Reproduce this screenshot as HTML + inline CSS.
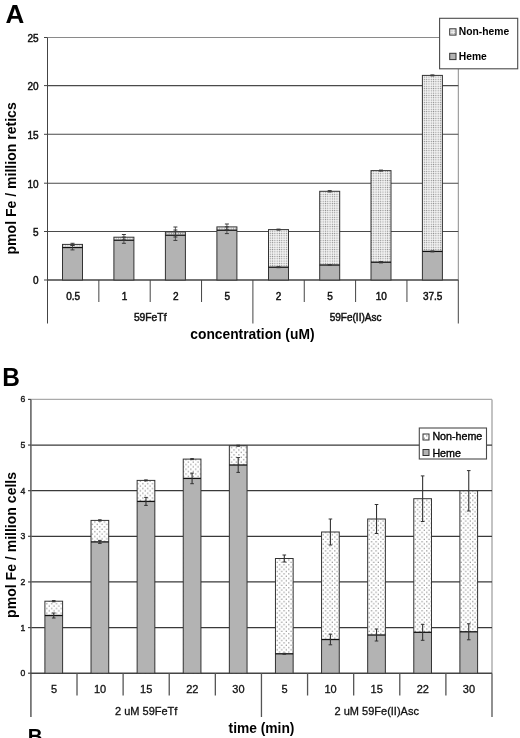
<!DOCTYPE html><html><head><meta charset="utf-8"><style>html,body{margin:0;padding:0;background:#fff;width:520px;height:738px;overflow:hidden}svg{display:block;will-change:transform}text{font-family:"Liberation Sans",sans-serif}</style></head><body>
<svg width="520" height="738" viewBox="0 0 520 738">
<defs>
<pattern id="fine" width="2.3" height="2.3" patternUnits="userSpaceOnUse"><rect width="2.3" height="2.3" fill="#f9f9f9"/><rect x="0.6" y="0.6" width="1.15" height="1.15" fill="#858585"/></pattern>
<pattern id="latb" width="4.6" height="4.6" patternUnits="userSpaceOnUse"><rect width="4.6" height="4.6" fill="#fff"/><rect x="0.6" y="0.6" width="1.2" height="1.2" fill="#8a8a8a"/><rect x="2.9" y="2.9" width="1.2" height="1.2" fill="#8a8a8a"/></pattern>
<pattern id="coarse" width="4.8" height="4.8" patternUnits="userSpaceOnUse"><rect width="4.8" height="4.8" fill="#fff"/><rect x="0.6" y="0.6" width="1.3" height="1.3" fill="#999"/><rect x="3.0" y="3.0" width="1.3" height="1.3" fill="#999"/></pattern>
</defs>
<rect width="520" height="738" fill="#fff"/>
<text x="5.50" y="22.50" font-size="26" text-anchor="start" font-weight="bold" fill="#000">A</text>
<line x1="47.50" y1="37.50" x2="440.00" y2="37.50" stroke="#8a8a8a" stroke-width="1"/>
<line x1="458.30" y1="69.00" x2="458.30" y2="280.00" stroke="#8a8a8a" stroke-width="1"/>
<line x1="47.50" y1="231.50" x2="458.30" y2="231.50" stroke="#4a4a4a" stroke-width="1.1"/>
<line x1="47.50" y1="183.20" x2="458.30" y2="183.20" stroke="#4a4a4a" stroke-width="1.1"/>
<line x1="47.50" y1="134.30" x2="458.30" y2="134.30" stroke="#4a4a4a" stroke-width="1.1"/>
<line x1="47.50" y1="85.60" x2="458.30" y2="85.60" stroke="#4a4a4a" stroke-width="1.1"/>
<line x1="47.50" y1="37.50" x2="47.50" y2="323.50" stroke="#444" stroke-width="1"/>
<line x1="44.00" y1="280.00" x2="47.50" y2="280.00" stroke="#444" stroke-width="1"/>
<text x="38.50" y="284.30" font-size="10" text-anchor="end" font-weight="normal" fill="#111" stroke="#111" stroke-width="0.45">0</text>
<line x1="44.00" y1="231.50" x2="47.50" y2="231.50" stroke="#444" stroke-width="1"/>
<text x="38.50" y="235.80" font-size="10" text-anchor="end" font-weight="normal" fill="#111" stroke="#111" stroke-width="0.45">5</text>
<line x1="44.00" y1="183.20" x2="47.50" y2="183.20" stroke="#444" stroke-width="1"/>
<text x="38.50" y="187.50" font-size="10" text-anchor="end" font-weight="normal" fill="#111" stroke="#111" stroke-width="0.45">10</text>
<line x1="44.00" y1="134.30" x2="47.50" y2="134.30" stroke="#444" stroke-width="1"/>
<text x="38.50" y="138.60" font-size="10" text-anchor="end" font-weight="normal" fill="#111" stroke="#111" stroke-width="0.45">15</text>
<line x1="44.00" y1="85.60" x2="47.50" y2="85.60" stroke="#444" stroke-width="1"/>
<text x="38.50" y="89.90" font-size="10" text-anchor="end" font-weight="normal" fill="#111" stroke="#111" stroke-width="0.45">20</text>
<line x1="44.00" y1="37.50" x2="47.50" y2="37.50" stroke="#444" stroke-width="1"/>
<text x="38.50" y="41.80" font-size="10" text-anchor="end" font-weight="normal" fill="#111" stroke="#111" stroke-width="0.45">25</text>
<line x1="47.50" y1="280.00" x2="458.30" y2="280.00" stroke="#444" stroke-width="1.3"/>
<line x1="98.85" y1="280.00" x2="98.85" y2="302.00" stroke="#444" stroke-width="1"/>
<line x1="150.20" y1="280.00" x2="150.20" y2="302.00" stroke="#444" stroke-width="1"/>
<line x1="201.55" y1="280.00" x2="201.55" y2="302.00" stroke="#444" stroke-width="1"/>
<line x1="252.90" y1="280.00" x2="252.90" y2="323.50" stroke="#444" stroke-width="1"/>
<line x1="304.25" y1="280.00" x2="304.25" y2="302.00" stroke="#444" stroke-width="1"/>
<line x1="355.60" y1="280.00" x2="355.60" y2="302.00" stroke="#444" stroke-width="1"/>
<line x1="406.95" y1="280.00" x2="406.95" y2="302.00" stroke="#444" stroke-width="1"/>
<line x1="458.30" y1="280.00" x2="458.30" y2="323.50" stroke="#444" stroke-width="1"/>
<text x="73.17" y="299.90" font-size="10" text-anchor="middle" font-weight="normal" fill="#111" stroke="#111" stroke-width="0.45">0.5</text>
<text x="124.53" y="299.90" font-size="10" text-anchor="middle" font-weight="normal" fill="#111" stroke="#111" stroke-width="0.45">1</text>
<text x="175.88" y="299.90" font-size="10" text-anchor="middle" font-weight="normal" fill="#111" stroke="#111" stroke-width="0.45">2</text>
<text x="227.22" y="299.90" font-size="10" text-anchor="middle" font-weight="normal" fill="#111" stroke="#111" stroke-width="0.45">5</text>
<text x="278.58" y="299.90" font-size="10" text-anchor="middle" font-weight="normal" fill="#111" stroke="#111" stroke-width="0.45">2</text>
<text x="329.93" y="299.90" font-size="10" text-anchor="middle" font-weight="normal" fill="#111" stroke="#111" stroke-width="0.45">5</text>
<text x="381.28" y="299.90" font-size="10" text-anchor="middle" font-weight="normal" fill="#111" stroke="#111" stroke-width="0.45">10</text>
<text x="432.62" y="299.90" font-size="10" text-anchor="middle" font-weight="normal" fill="#111" stroke="#111" stroke-width="0.45">37.5</text>
<text x="150.20" y="320.80" font-size="10.3" text-anchor="middle" font-weight="normal" fill="#111" stroke="#111" stroke-width="0.45">59FeTf</text>
<text x="355.60" y="320.80" font-size="10" text-anchor="middle" font-weight="normal" fill="#111" stroke="#111" stroke-width="0.45">59Fe(II)Asc</text>
<text x="252.40" y="338.50" font-size="13.8" text-anchor="middle" font-weight="bold" fill="#000">concentration (uM)</text>
<text x="0" y="0" font-size="14.05" font-weight="bold" fill="#000" text-anchor="middle" transform="translate(16.1,178.4) rotate(-90)">pmol Fe / million retics</text>
<rect x="62.50" y="244.40" width="20.00" height="35.60" fill="url(#fine)"/>
<rect x="62.50" y="247.50" width="20.00" height="32.50" fill="#b3b3b3"/>
<rect x="62.50" y="244.40" width="20.00" height="35.60" fill="none" stroke="#333" stroke-width="1"/>
<line x1="62.50" y1="247.50" x2="82.50" y2="247.50" stroke="#111" stroke-width="1.3"/>
<line x1="72.50" y1="243.30" x2="72.50" y2="245.50" stroke="#3a3a3a" stroke-width="0.8"/>
<line x1="70.50" y1="243.30" x2="74.50" y2="243.30" stroke="#3a3a3a" stroke-width="1"/>
<line x1="70.50" y1="245.50" x2="74.50" y2="245.50" stroke="#3a3a3a" stroke-width="1"/>
<line x1="72.50" y1="245.10" x2="72.50" y2="249.90" stroke="#3a3a3a" stroke-width="0.8"/>
<line x1="70.50" y1="245.10" x2="74.50" y2="245.10" stroke="#3a3a3a" stroke-width="1"/>
<line x1="70.50" y1="249.90" x2="74.50" y2="249.90" stroke="#3a3a3a" stroke-width="1"/>
<rect x="113.90" y="237.20" width="20.00" height="42.80" fill="url(#fine)"/>
<rect x="113.90" y="240.20" width="20.00" height="39.80" fill="#b3b3b3"/>
<rect x="113.90" y="237.20" width="20.00" height="42.80" fill="none" stroke="#333" stroke-width="1"/>
<line x1="113.90" y1="240.20" x2="133.90" y2="240.20" stroke="#111" stroke-width="1.3"/>
<line x1="123.90" y1="234.50" x2="123.90" y2="239.90" stroke="#3a3a3a" stroke-width="0.8"/>
<line x1="121.90" y1="234.50" x2="125.90" y2="234.50" stroke="#3a3a3a" stroke-width="1"/>
<line x1="121.90" y1="239.90" x2="125.90" y2="239.90" stroke="#3a3a3a" stroke-width="1"/>
<line x1="123.90" y1="237.10" x2="123.90" y2="243.30" stroke="#3a3a3a" stroke-width="0.8"/>
<line x1="121.90" y1="237.10" x2="125.90" y2="237.10" stroke="#3a3a3a" stroke-width="1"/>
<line x1="121.90" y1="243.30" x2="125.90" y2="243.30" stroke="#3a3a3a" stroke-width="1"/>
<rect x="165.40" y="232.00" width="20.00" height="48.00" fill="url(#fine)"/>
<rect x="165.40" y="235.20" width="20.00" height="44.80" fill="#b3b3b3"/>
<rect x="165.40" y="232.00" width="20.00" height="48.00" fill="none" stroke="#333" stroke-width="1"/>
<line x1="165.40" y1="235.20" x2="185.40" y2="235.20" stroke="#111" stroke-width="1.3"/>
<line x1="175.40" y1="227.00" x2="175.40" y2="237.00" stroke="#3a3a3a" stroke-width="0.8"/>
<line x1="173.40" y1="227.00" x2="177.40" y2="227.00" stroke="#3a3a3a" stroke-width="1"/>
<line x1="173.40" y1="237.00" x2="177.40" y2="237.00" stroke="#3a3a3a" stroke-width="1"/>
<line x1="175.40" y1="230.00" x2="175.40" y2="240.40" stroke="#3a3a3a" stroke-width="0.8"/>
<line x1="173.40" y1="230.00" x2="177.40" y2="230.00" stroke="#3a3a3a" stroke-width="1"/>
<line x1="173.40" y1="240.40" x2="177.40" y2="240.40" stroke="#3a3a3a" stroke-width="1"/>
<rect x="216.90" y="226.90" width="20.00" height="53.10" fill="url(#fine)"/>
<rect x="216.90" y="230.20" width="20.00" height="49.80" fill="#b3b3b3"/>
<rect x="216.90" y="226.90" width="20.00" height="53.10" fill="none" stroke="#333" stroke-width="1"/>
<line x1="216.90" y1="230.20" x2="236.90" y2="230.20" stroke="#111" stroke-width="1.3"/>
<line x1="226.90" y1="224.00" x2="226.90" y2="229.80" stroke="#3a3a3a" stroke-width="0.8"/>
<line x1="224.90" y1="224.00" x2="228.90" y2="224.00" stroke="#3a3a3a" stroke-width="1"/>
<line x1="224.90" y1="229.80" x2="228.90" y2="229.80" stroke="#3a3a3a" stroke-width="1"/>
<line x1="226.90" y1="226.80" x2="226.90" y2="233.60" stroke="#3a3a3a" stroke-width="0.8"/>
<line x1="224.90" y1="226.80" x2="228.90" y2="226.80" stroke="#3a3a3a" stroke-width="1"/>
<line x1="224.90" y1="233.60" x2="228.90" y2="233.60" stroke="#3a3a3a" stroke-width="1"/>
<rect x="268.50" y="229.60" width="20.00" height="50.40" fill="url(#fine)"/>
<rect x="268.50" y="267.20" width="20.00" height="12.80" fill="#b3b3b3"/>
<rect x="268.50" y="229.60" width="20.00" height="50.40" fill="none" stroke="#333" stroke-width="1"/>
<line x1="268.50" y1="267.20" x2="288.50" y2="267.20" stroke="#111" stroke-width="1.3"/>
<line x1="278.50" y1="229.10" x2="278.50" y2="230.10" stroke="#3a3a3a" stroke-width="0.8"/>
<line x1="276.50" y1="229.10" x2="280.50" y2="229.10" stroke="#3a3a3a" stroke-width="1"/>
<line x1="276.50" y1="230.10" x2="280.50" y2="230.10" stroke="#3a3a3a" stroke-width="1"/>
<line x1="278.50" y1="266.70" x2="278.50" y2="267.70" stroke="#3a3a3a" stroke-width="0.8"/>
<line x1="276.50" y1="266.70" x2="280.50" y2="266.70" stroke="#3a3a3a" stroke-width="1"/>
<line x1="276.50" y1="267.70" x2="280.50" y2="267.70" stroke="#3a3a3a" stroke-width="1"/>
<rect x="319.70" y="191.30" width="20.00" height="88.70" fill="url(#fine)"/>
<rect x="319.70" y="265.00" width="20.00" height="15.00" fill="#b3b3b3"/>
<rect x="319.70" y="191.30" width="20.00" height="88.70" fill="none" stroke="#333" stroke-width="1"/>
<line x1="319.70" y1="265.00" x2="339.70" y2="265.00" stroke="#111" stroke-width="1.3"/>
<line x1="329.70" y1="190.60" x2="329.70" y2="192.00" stroke="#3a3a3a" stroke-width="0.8"/>
<line x1="327.70" y1="190.60" x2="331.70" y2="190.60" stroke="#3a3a3a" stroke-width="1"/>
<line x1="327.70" y1="192.00" x2="331.70" y2="192.00" stroke="#3a3a3a" stroke-width="1"/>
<line x1="329.70" y1="264.50" x2="329.70" y2="265.50" stroke="#3a3a3a" stroke-width="0.8"/>
<line x1="327.70" y1="264.50" x2="331.70" y2="264.50" stroke="#3a3a3a" stroke-width="1"/>
<line x1="327.70" y1="265.50" x2="331.70" y2="265.50" stroke="#3a3a3a" stroke-width="1"/>
<rect x="371.00" y="170.60" width="20.00" height="109.40" fill="url(#fine)"/>
<rect x="371.00" y="262.20" width="20.00" height="17.80" fill="#b3b3b3"/>
<rect x="371.00" y="170.60" width="20.00" height="109.40" fill="none" stroke="#333" stroke-width="1"/>
<line x1="371.00" y1="262.20" x2="391.00" y2="262.20" stroke="#111" stroke-width="1.3"/>
<line x1="381.00" y1="170.10" x2="381.00" y2="171.10" stroke="#3a3a3a" stroke-width="0.8"/>
<line x1="379.00" y1="170.10" x2="383.00" y2="170.10" stroke="#3a3a3a" stroke-width="1"/>
<line x1="379.00" y1="171.10" x2="383.00" y2="171.10" stroke="#3a3a3a" stroke-width="1"/>
<line x1="381.00" y1="261.50" x2="381.00" y2="262.90" stroke="#3a3a3a" stroke-width="0.8"/>
<line x1="379.00" y1="261.50" x2="383.00" y2="261.50" stroke="#3a3a3a" stroke-width="1"/>
<line x1="379.00" y1="262.90" x2="383.00" y2="262.90" stroke="#3a3a3a" stroke-width="1"/>
<rect x="422.40" y="75.40" width="20.00" height="204.60" fill="url(#fine)"/>
<rect x="422.40" y="251.40" width="20.00" height="28.60" fill="#b3b3b3"/>
<rect x="422.40" y="75.40" width="20.00" height="204.60" fill="none" stroke="#333" stroke-width="1"/>
<line x1="422.40" y1="251.40" x2="442.40" y2="251.40" stroke="#111" stroke-width="1.3"/>
<line x1="432.40" y1="74.90" x2="432.40" y2="75.90" stroke="#3a3a3a" stroke-width="0.8"/>
<line x1="430.40" y1="74.90" x2="434.40" y2="74.90" stroke="#3a3a3a" stroke-width="1"/>
<line x1="430.40" y1="75.90" x2="434.40" y2="75.90" stroke="#3a3a3a" stroke-width="1"/>
<line x1="432.40" y1="250.90" x2="432.40" y2="251.90" stroke="#3a3a3a" stroke-width="0.8"/>
<line x1="430.40" y1="250.90" x2="434.40" y2="250.90" stroke="#3a3a3a" stroke-width="1"/>
<line x1="430.40" y1="251.90" x2="434.40" y2="251.90" stroke="#3a3a3a" stroke-width="1"/>
<rect x="439.6" y="18.3" width="78.1" height="50.5" fill="#fff" stroke="#4a4a4a" stroke-width="1.1"/>
<rect x="449.7" y="28.8" width="6.3" height="6.3" fill="url(#fine)" stroke="#333" stroke-width="1"/>
<rect x="449.7" y="53.3" width="6.3" height="6.3" fill="#b3b3b3" stroke="#333" stroke-width="1"/>
<text x="458.80" y="35.20" font-size="10.3" text-anchor="start" font-weight="bold" fill="#000">Non-heme</text>
<text x="458.80" y="60.10" font-size="10.3" text-anchor="start" font-weight="bold" fill="#000">Heme</text>
<text x="0" y="0" font-size="26" font-weight="bold" fill="#000" transform="translate(2.2,386) scale(0.94,1)">B</text>
<line x1="30.90" y1="399.42" x2="492.00" y2="399.42" stroke="#aaa" stroke-width="1.4"/>
<line x1="492.00" y1="399.42" x2="492.00" y2="673.20" stroke="#aaa" stroke-width="1.4"/>
<line x1="30.90" y1="627.57" x2="492.00" y2="627.57" stroke="#3a3a3a" stroke-width="1.3"/>
<line x1="30.90" y1="581.94" x2="492.00" y2="581.94" stroke="#3a3a3a" stroke-width="1.3"/>
<line x1="30.90" y1="536.31" x2="492.00" y2="536.31" stroke="#3a3a3a" stroke-width="1.3"/>
<line x1="30.90" y1="490.68" x2="492.00" y2="490.68" stroke="#3a3a3a" stroke-width="1.3"/>
<line x1="30.90" y1="445.05" x2="492.00" y2="445.05" stroke="#3a3a3a" stroke-width="1.3"/>
<line x1="30.90" y1="399.42" x2="30.90" y2="717.00" stroke="#666" stroke-width="1.6"/>
<line x1="28.00" y1="673.20" x2="30.90" y2="673.20" stroke="#444" stroke-width="1.2"/>
<text x="25.40" y="676.20" font-size="8.6" text-anchor="end" font-weight="normal" fill="#1a1a1a" stroke="#1a1a1a" stroke-width="0.4">0</text>
<line x1="28.00" y1="627.57" x2="30.90" y2="627.57" stroke="#444" stroke-width="1.2"/>
<text x="25.40" y="630.57" font-size="8.6" text-anchor="end" font-weight="normal" fill="#1a1a1a" stroke="#1a1a1a" stroke-width="0.4">1</text>
<line x1="28.00" y1="581.94" x2="30.90" y2="581.94" stroke="#444" stroke-width="1.2"/>
<text x="25.40" y="584.94" font-size="8.6" text-anchor="end" font-weight="normal" fill="#1a1a1a" stroke="#1a1a1a" stroke-width="0.4">2</text>
<line x1="28.00" y1="536.31" x2="30.90" y2="536.31" stroke="#444" stroke-width="1.2"/>
<text x="25.40" y="539.31" font-size="8.6" text-anchor="end" font-weight="normal" fill="#1a1a1a" stroke="#1a1a1a" stroke-width="0.4">3</text>
<line x1="28.00" y1="490.68" x2="30.90" y2="490.68" stroke="#444" stroke-width="1.2"/>
<text x="25.40" y="493.68" font-size="8.6" text-anchor="end" font-weight="normal" fill="#1a1a1a" stroke="#1a1a1a" stroke-width="0.4">4</text>
<line x1="28.00" y1="445.05" x2="30.90" y2="445.05" stroke="#444" stroke-width="1.2"/>
<text x="25.40" y="448.05" font-size="8.6" text-anchor="end" font-weight="normal" fill="#1a1a1a" stroke="#1a1a1a" stroke-width="0.4">5</text>
<line x1="28.00" y1="399.42" x2="30.90" y2="399.42" stroke="#444" stroke-width="1.2"/>
<text x="25.40" y="402.42" font-size="8.6" text-anchor="end" font-weight="normal" fill="#1a1a1a" stroke="#1a1a1a" stroke-width="0.4">6</text>
<line x1="30.90" y1="673.20" x2="492.00" y2="673.20" stroke="#444" stroke-width="1.6"/>
<line x1="77.01" y1="673.20" x2="77.01" y2="695.50" stroke="#555" stroke-width="1.3"/>
<line x1="123.12" y1="673.20" x2="123.12" y2="695.50" stroke="#555" stroke-width="1.3"/>
<line x1="169.23" y1="673.20" x2="169.23" y2="695.50" stroke="#555" stroke-width="1.3"/>
<line x1="215.34" y1="673.20" x2="215.34" y2="695.50" stroke="#555" stroke-width="1.3"/>
<line x1="261.45" y1="673.20" x2="261.45" y2="717.00" stroke="#555" stroke-width="1.3"/>
<line x1="307.56" y1="673.20" x2="307.56" y2="695.50" stroke="#555" stroke-width="1.3"/>
<line x1="353.67" y1="673.20" x2="353.67" y2="695.50" stroke="#555" stroke-width="1.3"/>
<line x1="399.78" y1="673.20" x2="399.78" y2="695.50" stroke="#555" stroke-width="1.3"/>
<line x1="445.89" y1="673.20" x2="445.89" y2="695.50" stroke="#555" stroke-width="1.3"/>
<line x1="492.00" y1="673.20" x2="492.00" y2="717.00" stroke="#555" stroke-width="1.3"/>
<text x="53.95" y="692.90" font-size="11" text-anchor="middle" font-weight="normal" fill="#111" stroke="#111" stroke-width="0.3">5</text>
<text x="100.06" y="692.90" font-size="11" text-anchor="middle" font-weight="normal" fill="#111" stroke="#111" stroke-width="0.3">10</text>
<text x="146.18" y="692.90" font-size="11" text-anchor="middle" font-weight="normal" fill="#111" stroke="#111" stroke-width="0.3">15</text>
<text x="192.28" y="692.90" font-size="11" text-anchor="middle" font-weight="normal" fill="#111" stroke="#111" stroke-width="0.3">22</text>
<text x="238.40" y="692.90" font-size="11" text-anchor="middle" font-weight="normal" fill="#111" stroke="#111" stroke-width="0.3">30</text>
<text x="284.50" y="692.90" font-size="11" text-anchor="middle" font-weight="normal" fill="#111" stroke="#111" stroke-width="0.3">5</text>
<text x="330.61" y="692.90" font-size="11" text-anchor="middle" font-weight="normal" fill="#111" stroke="#111" stroke-width="0.3">10</text>
<text x="376.72" y="692.90" font-size="11" text-anchor="middle" font-weight="normal" fill="#111" stroke="#111" stroke-width="0.3">15</text>
<text x="422.83" y="692.90" font-size="11" text-anchor="middle" font-weight="normal" fill="#111" stroke="#111" stroke-width="0.3">22</text>
<text x="468.94" y="692.90" font-size="11" text-anchor="middle" font-weight="normal" fill="#111" stroke="#111" stroke-width="0.3">30</text>
<text x="146.18" y="714.60" font-size="11" text-anchor="middle" font-weight="normal" fill="#111" stroke="#111" stroke-width="0.3">2 uM 59FeTf</text>
<text x="376.73" y="714.60" font-size="11" text-anchor="middle" font-weight="normal" fill="#111" stroke="#111" stroke-width="0.3">2 uM 59Fe(II)Asc</text>
<text x="261.50" y="733.00" font-size="13.8" text-anchor="middle" font-weight="bold" fill="#000">time (min)</text>
<text x="0" y="0" font-size="14.05" font-weight="bold" fill="#000" text-anchor="middle" transform="translate(15.8,544.9) rotate(-90)">pmol Fe / million cells</text>
<rect x="44.90" y="601.20" width="17.70" height="72.00" fill="url(#coarse)"/>
<rect x="44.90" y="615.50" width="17.70" height="57.70" fill="#b3b3b3"/>
<rect x="44.90" y="601.20" width="17.70" height="72.00" fill="none" stroke="#333" stroke-width="1"/>
<line x1="44.90" y1="615.50" x2="62.60" y2="615.50" stroke="#111" stroke-width="1.3"/>
<line x1="53.75" y1="600.60" x2="53.75" y2="601.80" stroke="#333" stroke-width="1.1"/>
<line x1="51.95" y1="600.60" x2="55.55" y2="600.60" stroke="#333" stroke-width="1"/>
<line x1="51.95" y1="601.80" x2="55.55" y2="601.80" stroke="#333" stroke-width="1"/>
<line x1="53.75" y1="613.00" x2="53.75" y2="618.00" stroke="#333" stroke-width="1.1"/>
<line x1="51.95" y1="613.00" x2="55.55" y2="613.00" stroke="#333" stroke-width="1"/>
<line x1="51.95" y1="618.00" x2="55.55" y2="618.00" stroke="#333" stroke-width="1"/>
<rect x="91.02" y="520.40" width="17.70" height="152.80" fill="url(#coarse)"/>
<rect x="91.02" y="541.90" width="17.70" height="131.30" fill="#b3b3b3"/>
<rect x="91.02" y="520.40" width="17.70" height="152.80" fill="none" stroke="#333" stroke-width="1"/>
<line x1="91.02" y1="541.90" x2="108.72" y2="541.90" stroke="#111" stroke-width="1.3"/>
<line x1="99.86" y1="519.80" x2="99.86" y2="521.00" stroke="#333" stroke-width="1.1"/>
<line x1="98.06" y1="519.80" x2="101.66" y2="519.80" stroke="#333" stroke-width="1"/>
<line x1="98.06" y1="521.00" x2="101.66" y2="521.00" stroke="#333" stroke-width="1"/>
<line x1="99.86" y1="540.40" x2="99.86" y2="543.40" stroke="#333" stroke-width="1.1"/>
<line x1="98.06" y1="540.40" x2="101.66" y2="540.40" stroke="#333" stroke-width="1"/>
<line x1="98.06" y1="543.40" x2="101.66" y2="543.40" stroke="#333" stroke-width="1"/>
<rect x="137.13" y="480.40" width="17.70" height="192.80" fill="url(#coarse)"/>
<rect x="137.13" y="501.40" width="17.70" height="171.80" fill="#b3b3b3"/>
<rect x="137.13" y="480.40" width="17.70" height="192.80" fill="none" stroke="#333" stroke-width="1"/>
<line x1="137.13" y1="501.40" x2="154.83" y2="501.40" stroke="#111" stroke-width="1.3"/>
<line x1="145.98" y1="479.90" x2="145.98" y2="480.90" stroke="#333" stroke-width="1.1"/>
<line x1="144.18" y1="479.90" x2="147.78" y2="479.90" stroke="#333" stroke-width="1"/>
<line x1="144.18" y1="480.90" x2="147.78" y2="480.90" stroke="#333" stroke-width="1"/>
<line x1="145.98" y1="497.40" x2="145.98" y2="505.40" stroke="#333" stroke-width="1.1"/>
<line x1="144.18" y1="497.40" x2="147.78" y2="497.40" stroke="#333" stroke-width="1"/>
<line x1="144.18" y1="505.40" x2="147.78" y2="505.40" stroke="#333" stroke-width="1"/>
<rect x="183.24" y="459.10" width="17.70" height="214.10" fill="url(#coarse)"/>
<rect x="183.24" y="478.40" width="17.70" height="194.80" fill="#b3b3b3"/>
<rect x="183.24" y="459.10" width="17.70" height="214.10" fill="none" stroke="#333" stroke-width="1"/>
<line x1="183.24" y1="478.40" x2="200.94" y2="478.40" stroke="#111" stroke-width="1.3"/>
<line x1="192.09" y1="458.60" x2="192.09" y2="459.60" stroke="#333" stroke-width="1.1"/>
<line x1="190.28" y1="458.60" x2="193.89" y2="458.60" stroke="#333" stroke-width="1"/>
<line x1="190.28" y1="459.60" x2="193.89" y2="459.60" stroke="#333" stroke-width="1"/>
<line x1="192.09" y1="473.10" x2="192.09" y2="483.70" stroke="#333" stroke-width="1.1"/>
<line x1="190.28" y1="473.10" x2="193.89" y2="473.10" stroke="#333" stroke-width="1"/>
<line x1="190.28" y1="483.70" x2="193.89" y2="483.70" stroke="#333" stroke-width="1"/>
<rect x="229.35" y="445.70" width="17.70" height="227.50" fill="url(#coarse)"/>
<rect x="229.35" y="465.00" width="17.70" height="208.20" fill="#b3b3b3"/>
<rect x="229.35" y="445.70" width="17.70" height="227.50" fill="none" stroke="#333" stroke-width="1"/>
<line x1="229.35" y1="465.00" x2="247.05" y2="465.00" stroke="#111" stroke-width="1.3"/>
<line x1="238.20" y1="445.20" x2="238.20" y2="446.20" stroke="#333" stroke-width="1.1"/>
<line x1="236.40" y1="445.20" x2="240.00" y2="445.20" stroke="#333" stroke-width="1"/>
<line x1="236.40" y1="446.20" x2="240.00" y2="446.20" stroke="#333" stroke-width="1"/>
<line x1="238.20" y1="457.60" x2="238.20" y2="472.40" stroke="#333" stroke-width="1.1"/>
<line x1="236.40" y1="457.60" x2="240.00" y2="457.60" stroke="#333" stroke-width="1"/>
<line x1="236.40" y1="472.40" x2="240.00" y2="472.40" stroke="#333" stroke-width="1"/>
<rect x="275.45" y="558.50" width="17.70" height="114.70" fill="url(#latb)"/>
<rect x="275.45" y="653.80" width="17.70" height="19.40" fill="#b3b3b3"/>
<rect x="275.45" y="558.50" width="17.70" height="114.70" fill="none" stroke="#333" stroke-width="1"/>
<line x1="275.45" y1="653.80" x2="293.15" y2="653.80" stroke="#111" stroke-width="1.3"/>
<line x1="284.31" y1="555.00" x2="284.31" y2="562.00" stroke="#333" stroke-width="1.1"/>
<line x1="282.50" y1="555.00" x2="286.11" y2="555.00" stroke="#333" stroke-width="1"/>
<line x1="282.50" y1="562.00" x2="286.11" y2="562.00" stroke="#333" stroke-width="1"/>
<line x1="284.31" y1="653.30" x2="284.31" y2="654.30" stroke="#333" stroke-width="1.1"/>
<line x1="282.50" y1="653.30" x2="286.11" y2="653.30" stroke="#333" stroke-width="1"/>
<line x1="282.50" y1="654.30" x2="286.11" y2="654.30" stroke="#333" stroke-width="1"/>
<rect x="321.56" y="532.00" width="17.70" height="141.20" fill="url(#latb)"/>
<rect x="321.56" y="639.50" width="17.70" height="33.70" fill="#b3b3b3"/>
<rect x="321.56" y="532.00" width="17.70" height="141.20" fill="none" stroke="#333" stroke-width="1"/>
<line x1="321.56" y1="639.50" x2="339.26" y2="639.50" stroke="#111" stroke-width="1.3"/>
<line x1="330.41" y1="519.00" x2="330.41" y2="545.00" stroke="#333" stroke-width="1.1"/>
<line x1="328.61" y1="519.00" x2="332.21" y2="519.00" stroke="#333" stroke-width="1"/>
<line x1="328.61" y1="545.00" x2="332.21" y2="545.00" stroke="#333" stroke-width="1"/>
<line x1="330.41" y1="634.20" x2="330.41" y2="644.80" stroke="#333" stroke-width="1.1"/>
<line x1="328.61" y1="634.20" x2="332.21" y2="634.20" stroke="#333" stroke-width="1"/>
<line x1="328.61" y1="644.80" x2="332.21" y2="644.80" stroke="#333" stroke-width="1"/>
<rect x="367.67" y="519.00" width="17.70" height="154.20" fill="url(#latb)"/>
<rect x="367.67" y="635.00" width="17.70" height="38.20" fill="#b3b3b3"/>
<rect x="367.67" y="519.00" width="17.70" height="154.20" fill="none" stroke="#333" stroke-width="1"/>
<line x1="367.67" y1="635.00" x2="385.37" y2="635.00" stroke="#111" stroke-width="1.3"/>
<line x1="376.52" y1="504.50" x2="376.52" y2="533.50" stroke="#333" stroke-width="1.1"/>
<line x1="374.72" y1="504.50" x2="378.32" y2="504.50" stroke="#333" stroke-width="1"/>
<line x1="374.72" y1="533.50" x2="378.32" y2="533.50" stroke="#333" stroke-width="1"/>
<line x1="376.52" y1="629.00" x2="376.52" y2="641.00" stroke="#333" stroke-width="1.1"/>
<line x1="374.72" y1="629.00" x2="378.32" y2="629.00" stroke="#333" stroke-width="1"/>
<line x1="374.72" y1="641.00" x2="378.32" y2="641.00" stroke="#333" stroke-width="1"/>
<rect x="413.78" y="498.70" width="17.70" height="174.50" fill="url(#latb)"/>
<rect x="413.78" y="632.30" width="17.70" height="40.90" fill="#b3b3b3"/>
<rect x="413.78" y="498.70" width="17.70" height="174.50" fill="none" stroke="#333" stroke-width="1"/>
<line x1="413.78" y1="632.30" x2="431.48" y2="632.30" stroke="#111" stroke-width="1.3"/>
<line x1="422.63" y1="475.90" x2="422.63" y2="521.50" stroke="#333" stroke-width="1.1"/>
<line x1="420.83" y1="475.90" x2="424.44" y2="475.90" stroke="#333" stroke-width="1"/>
<line x1="420.83" y1="521.50" x2="424.44" y2="521.50" stroke="#333" stroke-width="1"/>
<line x1="422.63" y1="624.30" x2="422.63" y2="640.30" stroke="#333" stroke-width="1.1"/>
<line x1="420.83" y1="624.30" x2="424.44" y2="624.30" stroke="#333" stroke-width="1"/>
<line x1="420.83" y1="640.30" x2="424.44" y2="640.30" stroke="#333" stroke-width="1"/>
<rect x="459.89" y="490.80" width="17.70" height="182.40" fill="url(#latb)"/>
<rect x="459.89" y="631.80" width="17.70" height="41.40" fill="#b3b3b3"/>
<rect x="459.89" y="490.80" width="17.70" height="182.40" fill="none" stroke="#333" stroke-width="1"/>
<line x1="459.89" y1="631.80" x2="477.59" y2="631.80" stroke="#111" stroke-width="1.3"/>
<line x1="468.75" y1="470.60" x2="468.75" y2="511.00" stroke="#333" stroke-width="1.1"/>
<line x1="466.94" y1="470.60" x2="470.55" y2="470.60" stroke="#333" stroke-width="1"/>
<line x1="466.94" y1="511.00" x2="470.55" y2="511.00" stroke="#333" stroke-width="1"/>
<line x1="468.75" y1="623.80" x2="468.75" y2="639.80" stroke="#333" stroke-width="1.1"/>
<line x1="466.94" y1="623.80" x2="470.55" y2="623.80" stroke="#333" stroke-width="1"/>
<line x1="466.94" y1="639.80" x2="470.55" y2="639.80" stroke="#333" stroke-width="1"/>
<rect x="419.3" y="428" width="67.2" height="31" fill="#fff" stroke="#4a4a4a" stroke-width="1.1"/>
<rect x="423" y="434" width="6" height="6" fill="url(#latb)" stroke="#333" stroke-width="1"/>
<rect x="423" y="449.5" width="6" height="6" fill="#b3b3b3" stroke="#333" stroke-width="1"/>
<text x="432.40" y="440.30" font-size="10.7" text-anchor="start" font-weight="normal" fill="#000" stroke="#000" stroke-width="0.35">Non-heme</text>
<text x="432.40" y="456.50" font-size="10.7" text-anchor="start" font-weight="normal" fill="#000" stroke="#000" stroke-width="0.35">Heme</text>
<text x="27.80" y="742.90" font-size="20.5" text-anchor="start" font-weight="bold" fill="#000">B</text>
</svg></body></html>
